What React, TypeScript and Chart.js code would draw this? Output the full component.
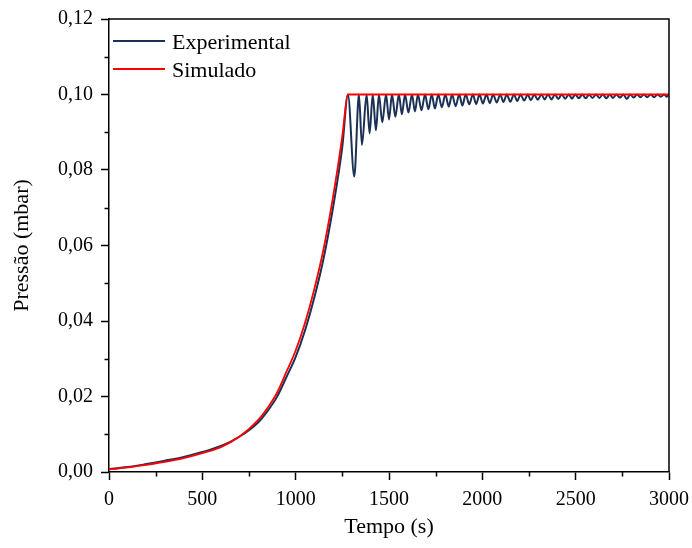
import React, { useEffect, useRef } from 'react';
import { Chart, registerables } from 'chart.js';

Chart.register(...registerables);

// Simulated curve (Simulado)
const simTime = [0, 100, 200, 300, 400, 500, 600, 700, 800, 850, 900, 950, 1000, 1050, 1100, 1150, 1200, 1250, 1280, 3000];
const simValue = [0.0007, 0.0012, 0.0019, 0.0027, 0.0037, 0.005, 0.0066, 0.0094, 0.0138, 0.017, 0.021, 0.0265, 0.0322, 0.0395, 0.0485, 0.0592, 0.0728, 0.089, 0.1, 0.1];

// Experimental curve: rising part
const expRiseTime = [0, 100, 200, 300, 400, 500, 600, 700, 800, 850, 900, 950, 1000, 1050, 1100, 1150, 1200, 1250];
const expRiseValue = [0.0008, 0.0013, 0.0021, 0.003, 0.004, 0.0053, 0.0069, 0.0094, 0.0132, 0.0162, 0.0199, 0.0251, 0.0305, 0.0375, 0.0462, 0.0567, 0.07, 0.0862];

// Experimental curve: oscillation around the set point
const expPeakValue = 0.1;
const expPeakTime = [1280, 1339, 1380, 1413, 1446, 1484, 1516, 1553, 1586, 1623, 1655, 1693, 1729, 1764, 1802, 1838, 1876, 1911, 1949, 1985, 2022, 2058, 2096, 2131, 2169, 2205, 2243, 2278, 2316, 2352, 2389, 2425, 2463, 2498, 2536, 2572, 2609, 2645, 2683, 2718, 2756, 2792, 2829, 2865, 2902, 2938, 2975, 3000];
const expTroughTime = [1314, 1355, 1396, 1430, 1464, 1500, 1534, 1569, 1604, 1639, 1674, 1711, 1746, 1783, 1820, 1857, 1893, 1930, 1967, 2003, 2040, 2077, 2113, 2150, 2187, 2224, 2260, 2297, 2334, 2370, 2407, 2444, 2480, 2517, 2554, 2590, 2627, 2664, 2700, 2737, 2774, 2810, 2847, 2883, 2920, 2956, 2988];
const expTroughValue = [0.0783, 0.0866, 0.0897, 0.0905, 0.0926, 0.0934, 0.0941, 0.0948, 0.0952, 0.0955, 0.0958, 0.0961, 0.0963, 0.0966, 0.0968, 0.0969, 0.0971, 0.0974, 0.0975, 0.0976, 0.0977, 0.0979, 0.098, 0.0981, 0.0983, 0.0984, 0.0985, 0.0986, 0.0987, 0.0987, 0.0988, 0.0989, 0.0989, 0.099, 0.099, 0.0991, 0.0991, 0.099, 0.0991, 0.0992, 0.0988, 0.0992, 0.0993, 0.0993, 0.0993, 0.0994, 0.0994];

const xMinorTicks = [250, 750, 1250, 1750, 2250, 2750];
const yMinorTicks = [0.01, 0.03, 0.05, 0.07, 0.09, 0.11];

const seriesNames = ['Experimental', 'Simulado'];
const seriesColors = ['#1b3153', '#ff0000'];

const FONT = '"Liberation Serif", "Times New Roman", Times, serif';

function buildExp() {
  const pts: { x: number; y: number }[] = [];
  expRiseTime.forEach((t, i) => pts.push({ x: t, y: expRiseValue[i] }));
  expPeakTime.forEach((t, i) => {
    pts.push({ x: t, y: expPeakValue });
    if (i < expTroughTime.length) pts.push({ x: expTroughTime[i], y: expTroughValue[i] });
  });
  return pts;
}

function buildSim() {
  return simTime.map((t, i) => ({ x: t, y: simValue[i] }));
}

const framePlugin = {
  id: 'frameAndMinor',
  afterDraw(chart: any) {
    const { ctx, chartArea } = chart;
    const xs = chart.scales.x;
    const ys = chart.scales.y;
    ctx.save();
    ctx.strokeStyle = '#000';
    ctx.lineWidth = 1.5;
    ctx.beginPath();
    ctx.moveTo(chartArea.left, chartArea.top);
    ctx.lineTo(chartArea.right, chartArea.top);
    ctx.lineTo(chartArea.right, chartArea.bottom);
    ctx.stroke();
    ctx.beginPath();
    xMinorTicks.forEach((v) => {
      const px = Math.round(xs.getPixelForValue(v)) + 0.5;
      ctx.moveTo(px, chartArea.bottom);
      ctx.lineTo(px, chartArea.bottom + 4.5);
    });
    yMinorTicks.forEach((v) => {
      const py = Math.round(ys.getPixelForValue(v)) + 0.5;
      ctx.moveTo(chartArea.left, py);
      ctx.lineTo(chartArea.left - 4.5, py);
    });
    ctx.stroke();

    // legend inside plot area
    ctx.font = `22px ${FONT}`;
    ctx.textBaseline = 'alphabetic';
    ctx.textAlign = 'left';
    chart.data.datasets.forEach((ds: any, i: number) => {
      const ly = chartArea.top + 22 + i * 28;
      ctx.strokeStyle = ds.borderColor;
      ctx.lineWidth = 2;
      ctx.beginPath();
      ctx.moveTo(chartArea.left + 4, ly);
      ctx.lineTo(chartArea.left + 56, ly);
      ctx.stroke();
      ctx.fillStyle = '#000';
      ctx.fillText(ds.label, chartArea.left + 63, ly + 8);
    });
    ctx.restore();
  },
};

export default function App() {
  const ref = useRef<HTMLCanvasElement>(null);
  useEffect(() => {
    document.body.style.margin = '0';
    if (!ref.current) return;
    const chart = new Chart(ref.current, {
      type: 'line',
      data: {
        datasets: [
          {
            label: seriesNames[0],
            data: buildExp(),
            borderColor: seriesColors[0],
            backgroundColor: seriesColors[0],
            borderWidth: 2,
            pointRadius: 0,
            cubicInterpolationMode: 'monotone',
            order: 1,
          },
          {
            label: seriesNames[1],
            data: buildSim(),
            borderColor: seriesColors[1],
            backgroundColor: seriesColors[1],
            borderWidth: 1.8,
            pointRadius: 0,
            cubicInterpolationMode: 'monotone',
            order: 0,
          },
        ],
      },
      options: {
        animation: false,
        responsive: false,
        maintainAspectRatio: false,
        layout: { padding: { top: 19, right: 23, left: 0, bottom: 0 } },
        plugins: { legend: { display: false }, tooltip: { enabled: false } },
        font: { family: FONT },
        scales: {
          x: {
            type: 'linear',
            min: 0,
            max: 3000,
            ticks: {
              stepSize: 500,
              color: '#000',
              font: { family: FONT, size: 20 },
              padding: 8,
              maxRotation: 0,
              callback: (v: any) => String(Math.round(Number(v))),
            },
            grid: { drawOnChartArea: false, drawTicks: true, tickLength: 8, tickColor: '#000', tickWidth: 1.5, color: '#000' },
            border: { color: '#000', width: 1.5 },
            title: { display: true, text: 'Tempo (s)', color: '#000', font: { family: FONT, size: 22 }, padding: { top: 0, bottom: 8 } },
            afterFit: (s: any) => {
              s.height = 76;
              s.paddingLeft = 0;
              s.paddingRight = 0;
            },
          },
          y: {
            type: 'linear',
            min: 0,
            max: 0.12,
            ticks: {
              stepSize: 0.02,
              color: '#000',
              font: { family: FONT, size: 20 },
              padding: 8,
              callback: (v: any) => Number(v).toFixed(2).replace('.', ','),
            },
            grid: { drawOnChartArea: false, drawTicks: true, tickLength: 8, tickColor: '#000', tickWidth: 1.5, color: '#000' },
            border: { color: '#000', width: 1.5 },
            title: { display: true, text: 'Pressão (mbar)', color: '#000', font: { family: FONT, size: 22 }, padding: { top: 9, bottom: 0 } },
            afterFit: (s: any) => {
              s.width = 109;
              s.paddingTop = 0;
              s.paddingBottom = 0;
            },
          },
        },
      } as any,
      plugins: [framePlugin],
    });
    return () => chart.destroy();
  }, []);
  return <canvas ref={ref} width={692} height={548} style={{ display: 'block' }} />;
}
